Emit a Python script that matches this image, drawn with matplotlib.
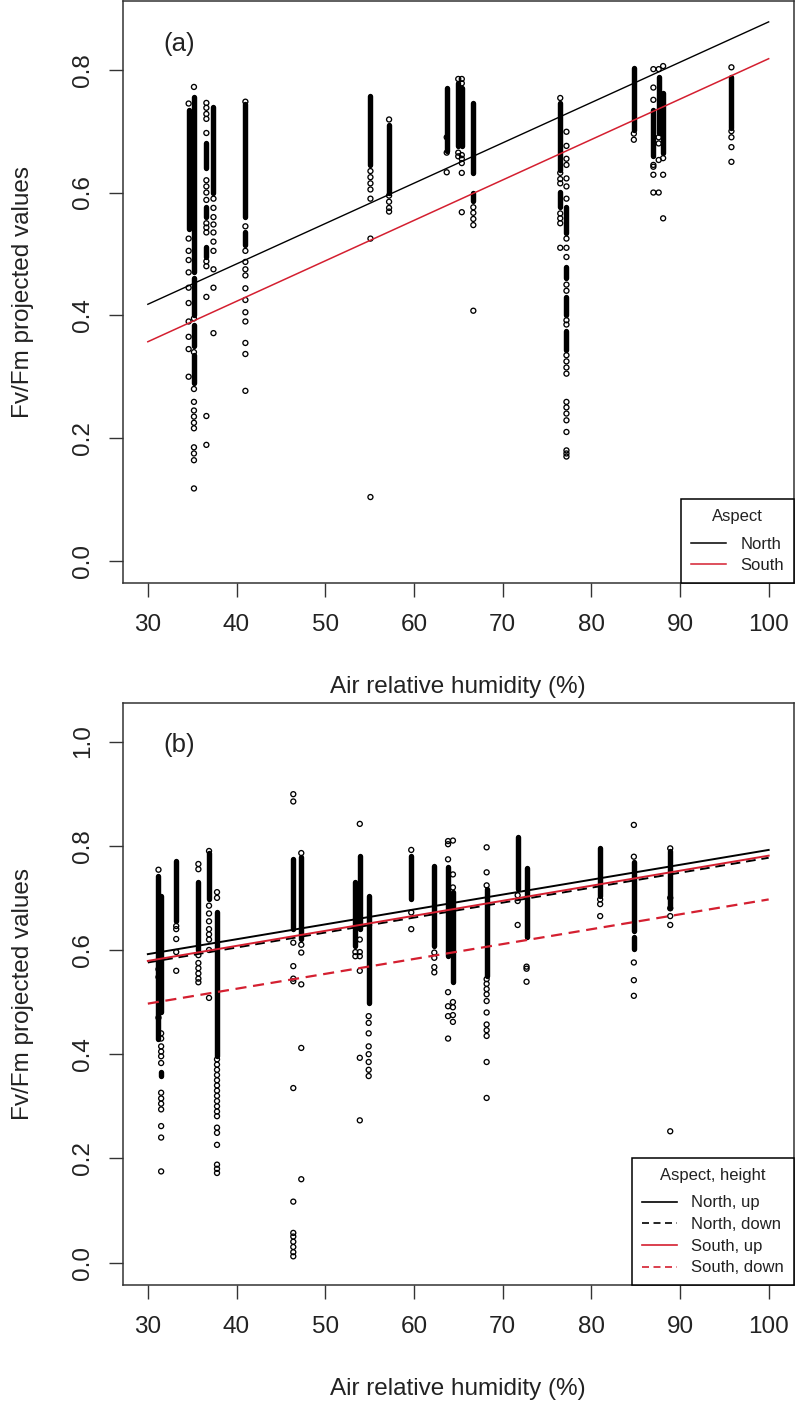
#!/usr/bin/env python3
"""
plot.py - Fv/Fm projected values against air relative humidity.

Two stacked panels: (a) by aspect, (b) by aspect and height.
Dense stacks of overlapping points are kept as value runs (lo, hi),
isolated points are listed one by one.
"""

import matplotlib
matplotlib.use("Agg")
import matplotlib.pyplot as plt
from matplotlib.lines import Line2D

plt.rcParams["font.family"] = ["Liberation Sans", "DejaVu Sans"]

TEXT = "#222222"
RED = "#d41f30"

# Axis ticks
X_TICKS = [30, 40, 50, 60, 70, 80, 90, 100]
A_Y_TICKS = [0.0, 0.2, 0.4, 0.6, 0.8]
B_Y_TICKS = [0.0, 0.2, 0.4, 0.6, 0.8, 1.0]

# Fitted lines (humidity 30 -> 100)
FIT_RH = [30, 100]
A_NORTH = [0.418, 0.878]
A_SOUTH = [0.357, 0.818]
B_NORTH_UP = [0.592, 0.792]
B_NORTH_DOWN = [0.576, 0.777]
B_SOUTH_UP = [0.579, 0.781]
B_SOUTH_DOWN = [0.497, 0.697]

# Panel (a): humidity of each sampling column
A_COL_X = [34.6, 35.2, 36.6, 37.4, 41.0, 55.1, 57.2, 63.7, 65.0, 65.4,
           66.7, 76.5, 77.2, 84.8, 87.0, 87.6, 88.1, 95.8]
# dense runs of overlapping points (lo, hi)
A_COL_RUNS = [
    [(0.54, 0.735)],
    [(0.47, 0.755), (0.40, 0.46), (0.35, 0.385), (0.29, 0.335)],
    [(0.64, 0.68), (0.56, 0.576), (0.495, 0.511)],
    [(0.60, 0.74)],
    [(0.56, 0.745), (0.515, 0.535)],
    [(0.645, 0.757)],
    [(0.60, 0.71)],
    [(0.667, 0.77)],
    [(0.675, 0.778)],
    [(0.675, 0.77)],
    [(0.632, 0.746), (0.586, 0.60)],
    [(0.637, 0.746), (0.577, 0.601)],
    [(0.534, 0.576), (0.46, 0.479), (0.40, 0.43), (0.343, 0.375)],
    [(0.702, 0.803)],
    [(0.659, 0.735)],
    [(0.697, 0.789)],
    [(0.664, 0.762)],
    [(0.705, 0.789)],
]
# isolated points
A_COL_PTS = [
    [0.745, 0.525, 0.505, 0.49, 0.47, 0.445, 0.42, 0.39, 0.365, 0.345, 0.30],
    [0.772, 0.395, 0.34, 0.28, 0.259, 0.245, 0.235, 0.225, 0.216, 0.185,
     0.175, 0.164, 0.118],
    [0.746, 0.738, 0.728, 0.72, 0.697, 0.62, 0.61, 0.60, 0.588, 0.55, 0.543,
     0.535, 0.488, 0.48, 0.43, 0.236, 0.189],
    [0.59, 0.575, 0.56, 0.548, 0.535, 0.52, 0.505, 0.475, 0.445, 0.371],
    [0.748, 0.545, 0.505, 0.487, 0.475, 0.465, 0.444, 0.425, 0.405, 0.39,
     0.355, 0.337, 0.277],
    [0.635, 0.625, 0.615, 0.605, 0.59, 0.525, 0.104],
    [0.719, 0.595, 0.585, 0.575, 0.569],
    [0.69, 0.665, 0.633],
    [0.785, 0.665, 0.659],
    [0.785, 0.778, 0.661, 0.655, 0.648, 0.632, 0.568],
    [0.576, 0.567, 0.557, 0.547, 0.4075],
    [0.754, 0.632, 0.622, 0.615, 0.566, 0.558, 0.55, 0.51],
    [0.699, 0.676, 0.655, 0.645, 0.623, 0.61, 0.59, 0.525, 0.51, 0.495,
     0.45, 0.44, 0.392, 0.385, 0.335, 0.325, 0.315, 0.305, 0.259, 0.25,
     0.24, 0.229, 0.21, 0.18, 0.175, 0.17],
    [0.696, 0.686],
    [0.801, 0.771, 0.751, 0.645, 0.642, 0.629, 0.60],
    [0.801, 0.69, 0.68, 0.653, 0.60],
    [0.806, 0.656, 0.629, 0.558],
    [0.804, 0.70, 0.69, 0.674, 0.650],
]

# Panel (b)
B_COL_X = [31.2, 31.5, 33.2, 35.7, 36.9, 37.8, 46.4, 47.3, 53.4, 53.9, 54.9,
           59.7, 62.3, 63.85, 64.4, 68.2, 71.7, 72.7, 81.0, 84.8, 88.9]
B_COL_RUNS = [
    [(0.43, 0.742)],
    [(0.48, 0.704), (0.358, 0.365)],
    [(0.656, 0.771)],
    [(0.60, 0.73)],
    [(0.697, 0.787)],
    [(0.396, 0.672)],
    [(0.64, 0.774)],
    [(0.621, 0.778)],
    [(0.608, 0.73)],
    [(0.64, 0.781)],
    [(0.499, 0.704)],
    [(0.697, 0.781)],
    [(0.608, 0.762)],
    [(0.588, 0.759)],
    [(0.538, 0.711)],
    [(0.55, 0.717)],
    [(0.717, 0.816)],
    [(0.624, 0.757)],
    [(0.704, 0.795)],
    [(0.637, 0.769), (0.601, 0.624)],
    [(0.681, 0.79)],
]
B_COL_PTS = [
    [0.754, 0.563, 0.548, 0.47],
    [0.44, 0.43, 0.415, 0.405, 0.396, 0.383, 0.326, 0.315, 0.305, 0.294,
     0.262, 0.24, 0.175],
    [0.646, 0.64, 0.621, 0.596, 0.56],
    [0.765, 0.755, 0.59, 0.575, 0.565, 0.555, 0.545, 0.538],
    [0.79, 0.685, 0.67, 0.655, 0.64, 0.63, 0.62, 0.60, 0.508],
    [0.711, 0.70, 0.39, 0.38, 0.37, 0.36, 0.35, 0.34, 0.33, 0.32, 0.31,
     0.30, 0.29, 0.281, 0.259, 0.249, 0.226, 0.188, 0.18, 0.172],
    [0.899, 0.885, 0.614, 0.569, 0.545, 0.54, 0.335, 0.117, 0.057, 0.05,
     0.04, 0.03, 0.02, 0.012],
    [0.786, 0.61, 0.595, 0.534, 0.412, 0.16],
    [0.596, 0.588],
    [0.842, 0.62, 0.596, 0.588, 0.56, 0.393, 0.273],
    [0.473, 0.46, 0.44, 0.415, 0.40, 0.385, 0.37, 0.358],
    [0.792, 0.672, 0.64],
    [0.595, 0.585, 0.567, 0.557],
    [0.809, 0.803, 0.774, 0.519, 0.492, 0.473, 0.43],
    [0.81, 0.745, 0.72, 0.50, 0.49, 0.475, 0.462],
    [0.797, 0.749, 0.724, 0.544, 0.535, 0.525, 0.515, 0.502, 0.48, 0.457,
     0.446, 0.435, 0.385, 0.316],
    [0.705, 0.694, 0.648],
    [0.568, 0.564, 0.539],
    [0.697, 0.688, 0.665],
    [0.84, 0.779, 0.576, 0.542, 0.512],
    [0.795, 0.70, 0.68, 0.665, 0.648, 0.252],
]


def draw_columns(ax, col_x, col_runs, col_pts):
    """Draw stacked open-circle columns: dense runs + single points."""
    for x, runs, pts in zip(col_x, col_runs, col_pts):
        for lo, hi in runs:
            ax.vlines(x, lo, hi, color="black", lw=3.9, capstyle="round")
        ax.scatter([x] * len(pts), pts, s=13, facecolors="none",
                   edgecolors="black", linewidths=0.95, zorder=3)


def style_axes(ax, yticks, ylim):
    ax.set_xlim(27.2, 102.8)
    ax.set_ylim(*ylim)
    ax.set_xticks(X_TICKS)
    ax.set_yticks(yticks)
    ax.set_yticklabels([f"{t:.1f}" for t in yticks], rotation=90, va="center")
    ax.tick_params(direction="out", length=10, width=1.0, color="#333333",
                   labelsize=17.5, labelcolor=TEXT)
    ax.tick_params(axis="x", pad=12)
    ax.tick_params(axis="y", pad=11)
    for sp in ax.spines.values():
        sp.set_linewidth(1.1)
        sp.set_color("#333333")
    ax.set_xlabel("Air relative humidity (%)", fontsize=17.5, color=TEXT)
    ax.set_ylabel("Fv/Fm projected values", fontsize=17.5, color=TEXT)
    ax.xaxis.set_label_coords(0.5, -0.16)
    ax.yaxis.set_label_coords(-0.133, 0.5)


def add_legend(ax, handles, labels, title):
    leg = ax.legend(handles, labels, title=title, loc="lower right",
                    borderaxespad=0, fancybox=False, edgecolor="black",
                    framealpha=1, fontsize=12, title_fontsize=12,
                    handlelength=2.1, handletextpad=0.85, labelspacing=0.4,
                    borderpad=0.58)
    leg.get_frame().set_linewidth(1.1)
    for t in leg.get_texts():
        t.set_color(TEXT)
    leg.get_title().set_color(TEXT)
    leg._legend_box.sep = 9  # gap between title and entries (points)
    return leg


def main():
    fig = plt.figure(figsize=(7.95, 14.04), dpi=100)
    ax_a = fig.add_axes([123 / 795, 1 - 583 / 1404, 670.5 / 795, 582 / 1404])
    ax_b = fig.add_axes([123 / 795, 1 - 1285 / 1404, 670.5 / 795, 582 / 1404])

    # (a) by aspect
    draw_columns(ax_a, A_COL_X, A_COL_RUNS, A_COL_PTS)
    ax_a.plot(FIT_RH, A_NORTH, color="black", lw=1.0, zorder=4)
    ax_a.plot(FIT_RH, A_SOUTH, color=RED, lw=1.1, zorder=4)
    style_axes(ax_a, A_Y_TICKS, (-0.036, 0.912))
    ax_a.text(33.5, 0.842, "(a)", fontsize=18.5, color=TEXT,
              ha="center", va="center")
    add_legend(ax_a,
               [Line2D([], [], color="black", lw=1.1),
                Line2D([], [], color=RED, lw=1.1)],
               ["North", "South"], "Aspect")

    # (b) by aspect and height
    dash = (0, (5, 3))
    draw_columns(ax_b, B_COL_X, B_COL_RUNS, B_COL_PTS)
    ax_b.plot(FIT_RH, B_NORTH_UP, color="black", lw=1.4, zorder=4)
    ax_b.plot(FIT_RH, B_NORTH_DOWN, color="black", lw=1.4, ls=dash, zorder=4)
    ax_b.plot(FIT_RH, B_SOUTH_UP, color=RED, lw=1.4, zorder=4)
    ax_b.plot(FIT_RH, B_SOUTH_DOWN, color=RED, lw=1.6, ls=dash, zorder=4)
    style_axes(ax_b, B_Y_TICKS, (-0.043, 1.074))
    ax_b.text(33.5, 0.994, "(b)", fontsize=18.5, color=TEXT,
              ha="center", va="center")
    leg_dash = (0, (4.2, 2.7))
    add_legend(ax_b,
               [Line2D([], [], color="black", lw=1.2),
                Line2D([], [], color="black", lw=1.2, ls=leg_dash),
                Line2D([], [], color=RED, lw=1.2),
                Line2D([], [], color=RED, lw=1.2, ls=leg_dash)],
               ["North, up", "North, down", "South, up", "South, down"],
               "Aspect, height")

    fig.savefig("out.png", dpi=100)
    plt.close(fig)


if __name__ == "__main__":
    main()
